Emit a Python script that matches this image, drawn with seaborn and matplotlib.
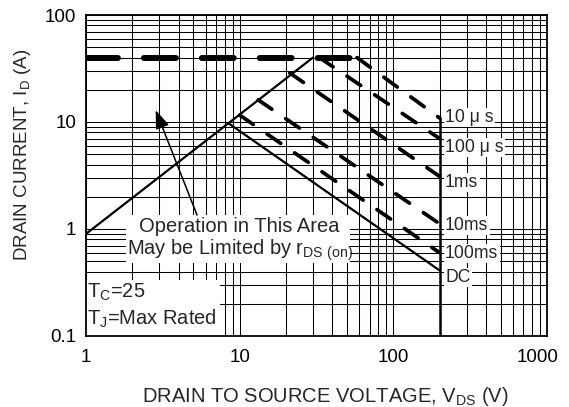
import matplotlib
matplotlib.use("Agg")
import matplotlib.pyplot as plt
import seaborn as sns
from matplotlib.ticker import FixedLocator, FixedFormatter, LogLocator, NullFormatter
from matplotlib.patches import Rectangle
from matplotlib.transforms import ScaledTranslation

# ---------------- data ----------------
rds_vds = [1, 30]
rds_id = [0.9, 40]
limit_vds = [1, 58]
limit_id = [40, 40]
us10_vds = [58, 200]
us10_id = [40, 10.9]
us100_vds = [33, 200]
us100_id = [40, 7.0]
ms1_vds = [21.2, 200]
ms1_id = [28.7, 3.1]
ms10_vds = [13.2, 200]
ms10_id = [16.1, 1.12]
ms100_vds = [10, 200]
ms100_id = [11.6, 0.6]
dc_vds = [8.4, 200]
dc_id = [9.8, 0.41]
bv_vds = [200, 200]
bv_id = [0.1, 10.9]

curve_labels = ["10 \u03bc s", "100 \u03bc s", "1ms", "10ms", "100ms", "DC"]
x_ticks = [1, 10, 100, 1000]
x_tick_labels = ["1", "10", "100", "1000"]
y_ticks = [0.1, 1, 10, 100]
y_tick_labels = ["0.1", "1", "10", "100"]

# ---------------- style ----------------
sns.set_style("white")
plt.rcParams["font.family"] = ["Liberation Sans", "DejaVu Sans"]
plt.rcParams["mathtext.fontset"] = "custom"
plt.rcParams["mathtext.rm"] = "Liberation Sans"
plt.rcParams["lines.scale_dashes"] = False

fig = plt.figure(figsize=(5.69, 4.07), dpi=100)
ax = fig.add_axes([86 / 569, 1 - 336 / 407, 461 / 569, 321 / 407])
ax.set_xscale("log")
ax.set_yscale("log")
ax.set_xlim(1, 1000)
ax.set_ylim(0.1, 100)

# grid
ax.set_axisbelow(True)
ax.xaxis.set_minor_locator(LogLocator(base=10, subs=range(2, 10)))
ax.yaxis.set_minor_locator(LogLocator(base=10, subs=range(2, 10)))
ax.xaxis.set_minor_formatter(NullFormatter())
ax.yaxis.set_minor_formatter(NullFormatter())
ax.grid(which="both", color="black", lw=0.75)

# white boxes behind annotations
ax.add_patch(Rectangle((0, 0), (220 - 86) / 461, (336 - 280) / 321,
                       transform=ax.transAxes, facecolor="white",
                       edgecolor="none", zorder=1))
ax.add_patch(Rectangle(((126 - 86) / 461, (336 - 263) / 321),
                       (350 - 126) / 461, (263 - 215) / 321,
                       transform=ax.transAxes, facecolor="white",
                       edgecolor="none", zorder=1))


def draw(xv, yv, **kw):
    sns.lineplot(x=xv, y=yv, ax=ax, estimator=None, sort=False,
                 color="black", legend=False, **kw)


thin_dash = (0, (11.9, 12.1))
draw(limit_vds, limit_id, lw=4.3, linestyle=(0, (23, 18.7)), dash_capstyle="round")
draw(rds_vds, rds_id, lw=1.6)
for xv, yv in [(us10_vds, us10_id), (us100_vds, us100_id), (ms1_vds, ms1_id),
               (ms10_vds, ms10_id), (ms100_vds, ms100_id)]:
    draw(xv, yv, lw=2.7, linestyle=thin_dash, dash_capstyle="round")
draw(dc_vds, dc_id, lw=1.6)
draw(bv_vds, bv_id, lw=1.8)

# curve labels
label_y = [10.0, 5.25, 2.47, 0.98, 0.536, 0.32]
for txt, yv in zip(curve_labels, label_y):
    ax.text(217, yv, txt, fontsize=12.7, ha="left", va="baseline", zorder=3,
            bbox=dict(facecolor="white", edgecolor="none", pad=1.0))

# annotation text
ax.text(10, 0.94, "Operation in This Area", fontsize=14.5, ha="center", va="baseline", zorder=3)
ax.text(10, 0.57, r"May be Limited by r$_\mathregular{DS\ (on)}$", fontsize=14.5,
        ha="center", va="baseline", zorder=3)
ax.annotate("", xy=(2.84, 12.9), xytext=(5.28, 1.35),
            arrowprops=dict(arrowstyle="-|>,head_length=0.8,head_width=0.3",
                            color="black", lw=1.1, shrinkA=0, shrinkB=0,
                            mutation_scale=14))
ax.text(1.02, 0.226, r"T$_\mathregular{C}$=25", fontsize=14.5, ha="left", va="baseline", zorder=3)
ax.text(1.02, 0.127, r"T$_\mathregular{J}$=Max Rated", fontsize=14.5, ha="left", va="baseline", zorder=3)

# ticks
ax.xaxis.set_major_locator(FixedLocator(x_ticks))
ax.xaxis.set_major_formatter(FixedFormatter(x_tick_labels))
ax.yaxis.set_major_locator(FixedLocator(y_ticks))
ax.yaxis.set_major_formatter(FixedFormatter(y_tick_labels))
ax.tick_params(which="both", length=0, labelsize=13.5, colors="black")
ax.tick_params(axis="x", pad=9)
ax.tick_params(axis="y", pad=7)
for sp in ax.spines.values():
    sp.set_visible(True)
    sp.set_color("black")
    sp.set_linewidth(1.3)

fig.canvas.draw()
last = ax.get_xticklabels()[-1]
last.set_transform(last.get_transform() + ScaledTranslation(-9 / 100, 0, fig.dpi_scale_trans))

ax.set_xlabel(r"DRAIN TO SOURCE VOLTAGE, V$_\mathregular{DS}$ (V)", fontsize=14.5)
ax.set_ylabel(r"DRAIN CURRENT, I$_\mathregular{D}$ (A)", fontsize=13.5)
ax.xaxis.set_label_coords(0.5195, -0.154)
ax.yaxis.set_label_coords(-0.115, 0.564)

fig.savefig("out.png", dpi=100)
